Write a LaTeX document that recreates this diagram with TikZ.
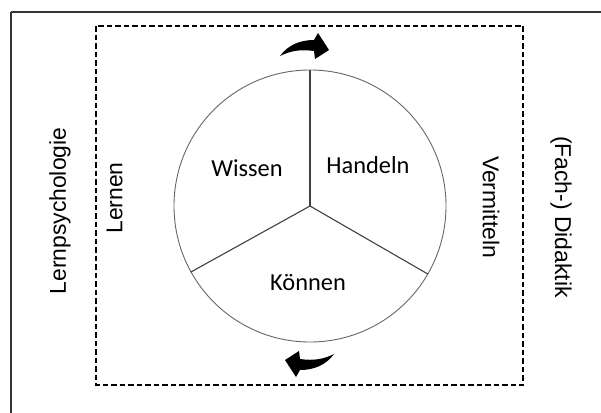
\documentclass[tikz,border=0pt]{standalone}
\usepackage{fontspec}
\setmainfont{Liberation Sans}
\newfontfamily\calibfont{Carlito}
\begin{document}
\begin{tikzpicture}[x=1bp,y=-1bp,
  sidelabel/.style={font=\fontsize{23}{27}\selectfont, inner sep=0pt, text=black},
  sectorlabel/.style={font=\calibfont\fontsize{24.5}{29}\selectfont, inner sep=0pt, text=black},
  frameline/.style={draw=black!80},
  dashbox/.style={draw=black, line width=2.2bp, dash pattern=on 5.5bp off 3bp},
  divider/.style={draw=black!75, line width=1.1bp},
  arrowshape/.style={fill=black, draw=none}]
\useasboundingbox (0,0) rectangle (601,412);
% outer frame (only left and top visible)
\coordinate (fTL) at (11,12);
\coordinate (fBL) at (11,413);
\coordinate (fTR) at (602,12);
\draw[frameline, line width=2bp] (fTL) -- (fBL);
\draw[frameline, line width=1.5bp] (fTL) -- (fTR);
% dashed box
\coordinate (dA) at (96,26);
\coordinate (dB) at (523,385);
\draw[dashbox] (dA) rectangle (dB);
% circle
\node[circle, draw=black!60, line width=0.9bp, minimum size=272bp, inner sep=0pt] (c) at (310,206) {};
\draw[divider] (c.center) -- (c.90);
\draw[divider] (c.center) -- (c.209.6);
\draw[divider] (c.center) -- (c.330.4);
% sector labels
\node[sectorlabel] (w) at (247,168) {Wissen};
\node[sectorlabel] (h) at (368,165) {Handeln};
\node[sectorlabel] (k) at (308,282) {Können};
% side labels
\node[sidelabel, rotate=90] (lp) at (60,211) {Lernpsychologie};
\node[sidelabel, rotate=90] (le) at (114.5,198) {Lernen};
\node[sidelabel, rotate=-90] (ve) at (491,207) {Vermitteln};
\node[sidelabel, rotate=-90] (di) at (561,217) {(Fach-) Didaktik};
% curved arrows
\path[arrowshape] (280,56) .. controls (288,45) and (300,40) .. (314,40)
  -- (318,33) -- (329,50) -- (315,59) -- (314,51)
  .. controls (300,49) and (290,51) .. (280,56) -- cycle;
\begin{scope}[rotate around={180:(307,205)}]
\path[arrowshape] (280,56) .. controls (288,45) and (300,40) .. (314,40)
  -- (318,33) -- (329,50) -- (315,59) -- (314,51)
  .. controls (300,49) and (290,51) .. (280,56) -- cycle;
\end{scope}
\end{tikzpicture}
\end{document}
